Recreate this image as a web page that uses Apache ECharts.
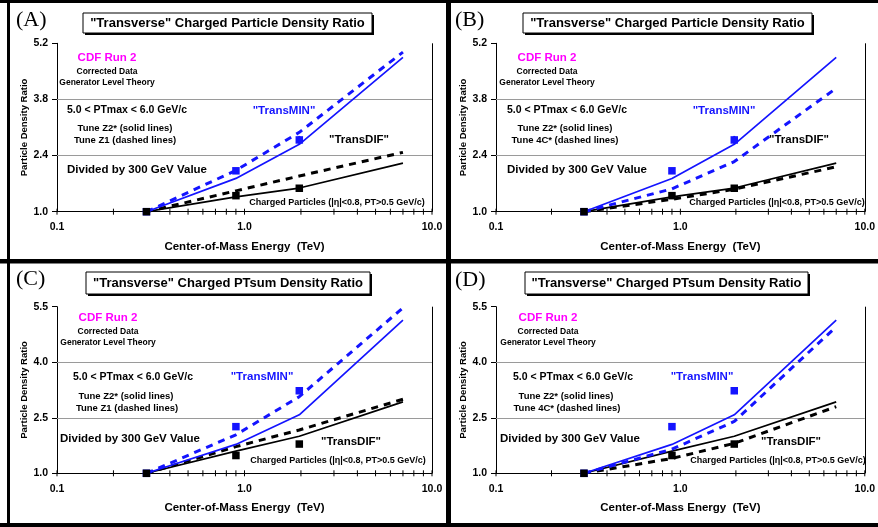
<!DOCTYPE html>
<html>
<head>
<meta charset="utf-8">
<script src="https://cdn.jsdelivr.net/npm/echarts@6/dist/echarts.min.js"></script>
<style>
html, body { margin: 0; padding: 0; background: #fff; }
#main { width: 878px; height: 527px; }
</style>
</head>
<body>
<div id="main"></div>
<script>
// energies (TeV)
var energies = [0.3, 0.9, 1.96, 7.0];
var dataEnergies = [0.3, 0.9, 1.96];

// charged particle density ratio (A, B)
var nchMinZ2 = [1.0, 1.83, 2.68, 4.85];
var nchMinZ1 = [1.0, 2.03, 2.98, 4.98];
var nchMin4C = [1.0, 1.57, 2.25, 4.08];
var nchDifZ2 = [1.0, 1.37, 1.59, 2.21];
var nchDifZ1 = [1.0, 1.52, 1.89, 2.48];
var nchDif4C = [1.0, 1.31, 1.56, 2.12];
var nchMinData = [1.0, 2.02, 2.79];
var nchMinErr = [0, 0.04, 0.1];
var nchDifData = [1.0, 1.40, 1.585];
var nchDifErr = [0, 0.02, 0.03];

// charged PTsum density ratio (C, D)
var ptsMinZ2 = [1.0, 1.78, 2.58, 5.14];
var ptsMinZ1 = [1.0, 2.04, 3.07, 5.47];
var ptsMin4C = [1.0, 1.65, 2.40, 4.96];
var ptsDifZ2 = [1.0, 1.60, 2.00, 2.93];
var ptsDifZ1 = [1.0, 1.72, 2.17, 3.00];
var ptsDif4C = [1.0, 1.40, 1.81, 2.80];
var ptsMinData = [1.0, 2.26, 3.23];
var ptsMinErr = [0, 0.05, 0.09];
var ptsDifData = [1.0, 1.48, 1.79];
var ptsDifErr = [0, 0.03, 0.03];

// ticks
var xTicks = [0.1, 1, 10];
var xMinorTicks = [0.2, 0.3, 0.4, 0.5, 0.6, 0.7, 0.8, 0.9, 2, 3, 4, 5, 6, 7, 8, 9];
var yTicksTop = [1.0, 2.4, 3.8, 5.2];
var yTicksBottom = [1.0, 2.5, 4.0, 5.5];

var BLUE = '#1414ff';
var FONT = 'Liberation Sans';

var panels = [
  { grid: { left: 57, top: 43.3, width: 375, height: 168.4 }, yTicks: yTicksTop,
    minS: nchMinZ2, minD: nchMinZ1, difS: nchDifZ2, difD: nchDifZ1,
    minData: nchMinData, minErr: nchMinErr, difData: nchDifData, difErr: nchDifErr },
  { grid: { left: 496, top: 43.3, width: 376, height: 168.4 }, yTicks: yTicksTop,
    minS: nchMinZ2, minD: nchMin4C, difS: nchDifZ2, difD: nchDif4C,
    minData: nchMinData, minErr: nchMinErr, difData: nchDifData, difErr: nchDifErr },
  { grid: { left: 57, top: 306.7, width: 375, height: 166.6 }, yTicks: yTicksBottom,
    minS: ptsMinZ2, minD: ptsMinZ1, difS: ptsDifZ2, difD: ptsDifZ1,
    minData: ptsMinData, minErr: ptsMinErr, difData: ptsDifData, difErr: ptsDifErr },
  { grid: { left: 496, top: 306.7, width: 376, height: 166.6 }, yTicks: yTicksBottom,
    minS: ptsMinZ2, minD: ptsMin4C, difS: ptsDifZ2, difD: ptsDif4C,
    minData: ptsMinData, minErr: ptsMinErr, difData: ptsDifData, difErr: ptsDifErr }
];

function pairs(xs, ys) {
  return xs.map(function (x, i) { return [x, ys[i]]; });
}

var grids = [], xAxes = [], yAxes = [], series = [];

panels.forEach(function (p, i) {
  var yt = p.yTicks;
  grids.push(p.grid);
  xAxes.push({
    gridIndex: i, type: 'log', logBase: 10, min: 0.1, max: 10,
    name: 'Center-of-Mass Energy  (TeV)', nameLocation: 'middle', nameGap: 29,
    nameTextStyle: { fontFamily: FONT, fontWeight: 'bold', fontSize: 11.5, color: '#000' },
    axisLine: { show: true, lineStyle: { color: '#000', width: 1 } },
    axisTick: { show: false }, minorTick: { show: false },
    splitLine: { show: false },
    axisLabel: { margin: 10, fontFamily: FONT, fontWeight: 'bold', fontSize: 10.5, color: '#000',
      formatter: function (v) { return (+v).toFixed(1); } }
  });
  yAxes.push({
    gridIndex: i, type: 'value', min: yt[0], max: yt[yt.length - 1], interval: yt[1] - yt[0],
    name: 'Particle Density Ratio', nameLocation: 'middle', nameGap: 27,
    nameTextStyle: { fontFamily: FONT, fontWeight: 'bold', fontSize: 9.5, color: '#000' },
    axisLine: { show: true, lineStyle: { color: '#000', width: 1 } },
    axisTick: { show: true, length: 5, lineStyle: { color: '#000' } },
    splitLine: { show: false },
    axisLabel: { margin: 9, fontFamily: FONT, fontWeight: 'bold', fontSize: 10.5, color: '#000',
      formatter: function (v) { return (+v).toFixed(1); } }
  });

  var base = { xAxisIndex: i, yAxisIndex: i, silent: true, animation: false };
  var gridLines = yt.slice(1, yt.length - 1).map(function (v) {
    return { yAxis: v, lineStyle: { color: '#9a9a9a', width: 1, type: 'solid' } };
  });
  gridLines.push({ xAxis: 10, lineStyle: { color: '#000', width: 1, type: 'solid' } });

  series.push(Object.assign({}, base, {
    type: 'line', data: pairs(energies, p.difS), symbol: 'none', z: 3,
    lineStyle: { color: '#000', width: 1.7 },
    markLine: { silent: true, symbol: 'none', label: { show: false }, data: gridLines, z: 1 }
  }));
  series.push(Object.assign({}, base, {
    type: 'line', data: pairs(energies, p.difD), symbol: 'none', z: 3,
    lineStyle: { color: '#000', width: 3, type: [7, 6] }
  }));
  series.push(Object.assign({}, base, {
    type: 'line', data: pairs(energies, p.minS), symbol: 'none', z: 3,
    lineStyle: { color: BLUE, width: 1.7 }
  }));
  series.push(Object.assign({}, base, {
    type: 'line', data: pairs(energies, p.minD), symbol: 'none', z: 3,
    lineStyle: { color: BLUE, width: 3, type: [7, 6] }
  }));

  // error bars
  var errData = [];
  dataEnergies.forEach(function (e, k) {
    errData.push([e, p.minData[k] - p.minErr[k], p.minData[k] + p.minErr[k], 0]);
    errData.push([e, p.difData[k] - p.difErr[k], p.difData[k] + p.difErr[k], 1]);
  });
  series.push(Object.assign({}, base, {
    type: 'custom', data: errData, z: 4,
    renderItem: function (params, api) {
      var a = api.coord([api.value(0), api.value(1)]);
      var b = api.coord([api.value(0), api.value(2)]);
      var col = api.value(3) === 0 ? BLUE : '#000';
      return { type: 'line', shape: { x1: a[0], y1: a[1], x2: b[0], y2: b[1] },
        style: { stroke: col, lineWidth: 2 } };
    }
  }));
  series.push(Object.assign({}, base, {
    type: 'scatter', data: pairs(dataEnergies, p.minData), symbol: 'rect', symbolSize: 7.5, z: 5,
    itemStyle: { color: BLUE, opacity: 1 }
  }));
  series.push(Object.assign({}, base, {
    type: 'scatter', data: pairs(dataEnergies, p.difData), symbol: 'rect', symbolSize: 7.5, z: 6,
    itemStyle: { color: '#000', opacity: 1 }
  }));

  // log-axis ticks (major + minor) crossing the axis line
  var tickData = xTicks.concat(xMinorTicks).map(function (v) { return [v, yt[0]]; });
  series.push(Object.assign({}, base, {
    type: 'custom', data: tickData, z: 7, clip: false,
    renderItem: function (params, api) {
      var c = api.coord([api.value(0), api.value(1)]);
      return { type: 'line', shape: { x1: c[0], y1: c[1] - 3, x2: c[0], y2: c[1] + 3 },
        style: { stroke: '#000', lineWidth: 1 } };
    }
  }));
});

// annotation text
function txt(x, y, s, size, color) {
  return { type: 'text', x: x, y: y, silent: true, z: 20,
    style: { text: s, fill: color || '#000', font: 'bold ' + size + 'px "' + FONT + '"',
      textAlign: 'center', textVerticalAlign: 'middle' } };
}
function titleBox(x, y, w, h, s) {
  return [
    { type: 'rect', shape: { x: x + 2, y: y + 2, width: w, height: h }, style: { fill: '#000' }, z: 20, silent: true },
    { type: 'rect', shape: { x: x, y: y, width: w, height: h }, style: { fill: '#fff', stroke: '#000', lineWidth: 1 }, z: 21, silent: true },
    { type: 'text', x: x + w / 2, y: y + h / 2 + 0.5, z: 22, silent: true,
      style: { text: s, fill: '#000', font: 'bold 13px "' + FONT + '"', textAlign: 'center', textVerticalAlign: 'middle' } }
  ];
}
function letter(x, y, s) {
  return { type: 'text', x: x, y: y, z: 20, silent: true,
    style: { text: s, fill: '#000', font: '22px "Liberation Serif"', textAlign: 'left', textVerticalAlign: 'middle' } };
}

var g = [];
// panel frames
g.push({ type: 'rect', shape: { x: 0, y: 0, width: 878, height: 3 }, style: { fill: '#000' }, z: 30, silent: true });
g.push({ type: 'rect', shape: { x: 7, y: 0, width: 3, height: 527 }, style: { fill: '#000' }, z: 30, silent: true });
g.push({ type: 'rect', shape: { x: 446, y: 0, width: 5, height: 527 }, style: { fill: '#000' }, z: 30, silent: true });
g.push({ type: 'rect', shape: { x: 0, y: 259, width: 878, height: 4.5 }, style: { fill: '#000' }, z: 30, silent: true });
g.push({ type: 'rect', shape: { x: 0, y: 523, width: 878, height: 4 }, style: { fill: '#000' }, z: 30, silent: true });

g = g.concat(titleBox(83, 13, 289, 20, '"Transverse" Charged Particle Density Ratio'));
g = g.concat(titleBox(523, 13, 289, 20, '"Transverse" Charged Particle Density Ratio'));
g = g.concat(titleBox(86, 272, 284, 22, '"Transverse" Charged PTsum Density Ratio'));
g = g.concat(titleBox(525, 272, 283, 22, '"Transverse" Charged PTsum Density Ratio'));
g.push(letter(16, 20, '(A)'));
g.push(letter(455, 20, '(B)'));
g.push(letter(16, 279, '(C)'));
g.push(letter(455, 280, '(D)'));

var tunes = ['Tune Z1 (dashed lines)', 'Tune 4C* (dashed lines)'];
[0, 440].forEach(function (dx, k) {
  // top row
  g.push(txt(107 + dx, 58, 'CDF Run 2', 11.5, '#ff00ff'));
  g.push(txt(107 + dx, 72, 'Corrected Data', 8.5));
  g.push(txt(107 + dx, 83, 'Generator Level Theory', 8.5));
  g.push(txt(127 + dx, 110, '5.0 < PTmax < 6.0 GeV/c', 10.5));
  g.push(txt(125 + dx, 128, 'Tune Z2* (solid lines)', 9.5));
  g.push(txt(125 + dx, 140, tunes[k], 9.5));
  g.push(txt(137 + dx, 170, 'Divided by 300 GeV Value', 11.5));
  g.push(txt(284 + dx, 111, '"TransMIN"', 11.5, BLUE));
  g.push(txt(359 + dx, 140, '"TransDIF"', 11.5));
  g.push(txt(337 + dx, 203, 'Charged Particles (|\u03b7|<0.8, PT>0.5 GeV/c)', 9));
  // bottom row
  g.push(txt(108 + dx, 318, 'CDF Run 2', 11.5, '#ff00ff'));
  g.push(txt(108 + dx, 332, 'Corrected Data', 8.5));
  g.push(txt(108 + dx, 343, 'Generator Level Theory', 8.5));
  g.push(txt(133 + dx, 377, '5.0 < PTmax < 6.0 GeV/c', 10.5));
  g.push(txt(126 + dx, 396, 'Tune Z2* (solid lines)', 9.5));
  g.push(txt(127 + dx, 408, tunes[k], 9.5));
  g.push(txt(130 + dx, 439, 'Divided by 300 GeV Value', 11.5));
  g.push(txt(262 + dx, 377, '"TransMIN"', 11.5, BLUE));
  g.push(txt(351 + dx, 442, '"TransDIF"', 11.5));
  g.push(txt(338 + dx, 461, 'Charged Particles (|\u03b7|<0.8, PT>0.5 GeV/c)', 9));
});

var chart = echarts.init(document.getElementById('main'));
chart.setOption({
  backgroundColor: '#fff',
  animation: false,
  grid: grids,
  xAxis: xAxes,
  yAxis: yAxes,
  series: series,
  graphic: g
});
</script>
</body>
</html>
